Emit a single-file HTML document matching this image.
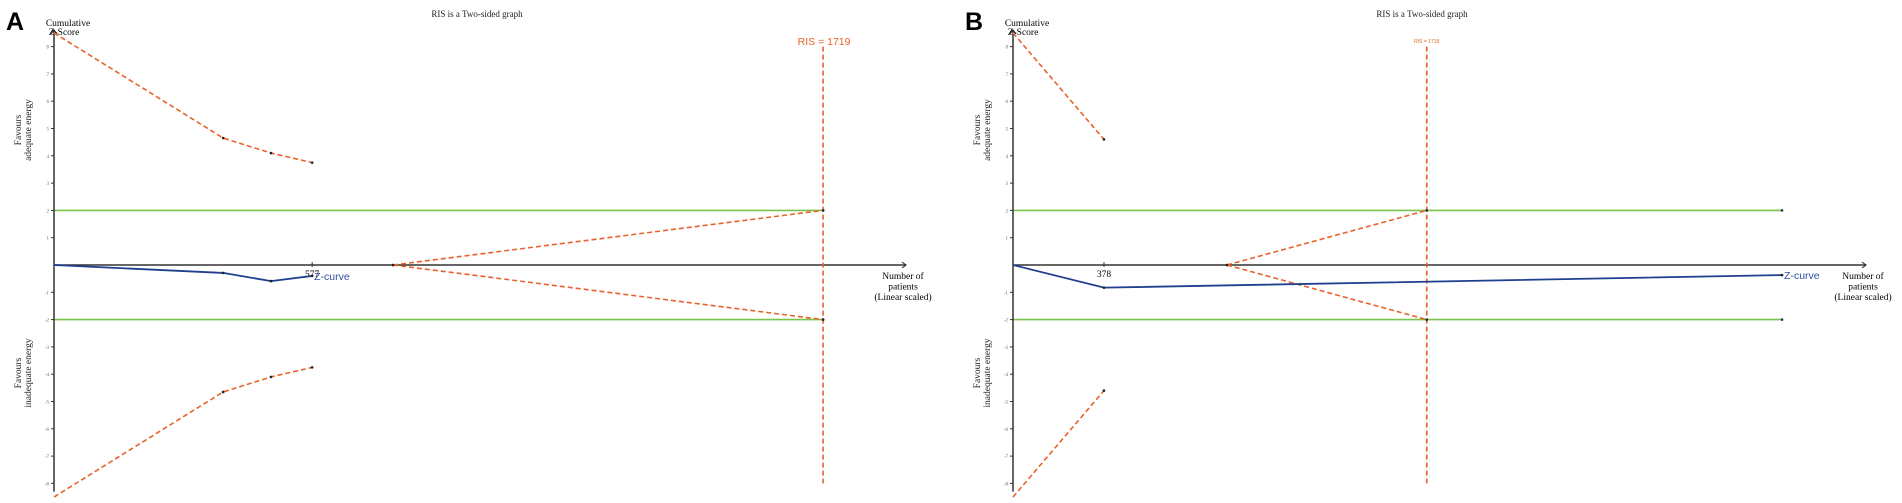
<!DOCTYPE html>
<html><head><meta charset="utf-8"><style>
html,body{margin:0;padding:0;background:#fff;}
svg{display:block;}
.ser{font-family:"Liberation Serif",serif;}
.san{font-family:"Liberation Sans",sans-serif;}
</style></head><body>
<svg id="chart" width="1902" height="503" viewBox="0 0 1902 503"></svg>
<script>
// ---- Panel A data ----
const aZx = [0, 378, 485, 577];
const aZy = [0, -0.29, -0.59, -0.40];
const aUpX = [0, 378, 485, 577];
const aUpY = [8.5, 4.65, 4.1, 3.75];
const aFutX = [758, 1719];
const aFutY = [0, 2];
const aRIS = 1719;
const aTick = [577];
const aTickLbl = ["577"];
const aGreenEnd = 1719;
// ---- Panel B data ----
const bZx = [0, 378, 3195];
const bZy = [0, -0.83, -0.37];
const bUpX = [0, 378];
const bUpY = [8.5, 4.6];
const bFutX = [889, 1719];
const bFutY = [0, 2];
const bRIS = 1719;
const bTick = [378];
const bTickLbl = ["378"];
const bGreenEnd = 3195;
const yTicks = [-8,-7,-6,-5,-4,-3,-2,-1,1,2,3,4,5,6,7,8];

const svg = document.getElementById('chart');
const NS = 'http://www.w3.org/2000/svg';
function mk(tag, attrs, parent){const e=document.createElementNS(NS,tag);for(const k in attrs)e.setAttribute(k,attrs[k]);(parent||svg).appendChild(e);return e;}

function panel(cfg){
  const g = mk('g',{});
  
  
  const X = v => cfg.x0 + v*cfg.sx;
  const Y = v => 265 - v*27.3;
  // title
  const t = mk('text',{x:cfg.titleX,y:17,'font-size':9,'text-anchor':'middle',class:'ser',fill:'#222'},g);
  t.textContent='RIS is a Two-sided graph';
  
  
  const L = mk('text',{x:cfg.x0-48,y:30,'font-size':25,'font-weight':'bold',class:'san',fill:'#000'},g);
  L.textContent=cfg.letter;
  
  
  const c1 = mk('text',{x:cfg.x0+14,y:26,'font-size':9.5,'text-anchor':'middle',class:'ser'},g); c1.textContent='Cumulative';
  
  
  const c2 = mk('text',{x:cfg.x0+10,y:35,'font-size':9.5,'text-anchor':'middle',class:'ser'},g); c2.textContent='Z-Score';
  
  
  // favour labels
  [[130,'Favours','adequate energy','favours-adequate-label'],[373,'Favours','inadequate energy','favours-inadequate-label']].forEach(f=>{
    const tt = mk('text',{transform:`translate(${cfg.x0-33},${f[0]}) rotate(-90)`,'font-size':9.5,'text-anchor':'middle',class:'ser',fill:'#222'},g);
    
    
    const s1=mk('tspan',{x:0,dy:0},tt); s1.textContent=f[1];
    const s2=mk('tspan',{x:0,dy:10},tt); s2.textContent=f[2];
  });
  // green boundaries
  [2,-2].forEach(v=>{
    const l=mk('line',{x1:X(0),x2:X(cfg.green),y1:Y(v),y2:Y(v),stroke:'#7cc24e','stroke-width':1.6},g);
    
    
    mk('circle',{cx:X(cfg.green),cy:Y(v),r:1.3,fill:'#333'},g);
  });
  // y axis
  const ya=mk('line',{x1:X(0),x2:X(0),y1:Y(8.5)-3,y2:Y(-8.3),stroke:'#333','stroke-width':1.5},g);
  
  
  mk('path',{d:`M${X(0)-3},${Y(8.5)+1} L${X(0)},${Y(8.5)-3} L${X(0)+3},${Y(8.5)+1}`,fill:'none',stroke:'#222','stroke-width':1},g);
  yTicks.forEach(v=>{
    mk('line',{x1:X(0)-3,x2:X(0),y1:Y(v),y2:Y(v),stroke:'#333','stroke-width':1},g);
    const tl=mk('text',{x:X(0)-5,y:Y(v)+2,'font-size':5,'text-anchor':'end',class:'ser',fill:'#666'},g);
    tl.textContent=v;
    
    
  });
  // x axis
  const xa=mk('line',{x1:X(0),x2:cfg.axEnd,y1:Y(0),y2:Y(0),stroke:'#333','stroke-width':1.5},g);
  
  
  mk('path',{d:`M${cfg.axEnd-4},${Y(0)-3} L${cfg.axEnd},${Y(0)} L${cfg.axEnd-4},${Y(0)+3}`,fill:'none',stroke:'#222','stroke-width':1},g);
  ['Number of','patients','(Linear scaled)'].forEach((s,i)=>{
    const tx=mk('text',{x:cfg.axEnd-3,y:Y(0)+14+i*10.5,'font-size':9.5,'text-anchor':'middle',class:'ser'},g);
    tx.textContent=s;
    
    
  });
  cfg.ticks.forEach((v,i)=>{
    mk('line',{x1:X(v),x2:X(v),y1:Y(0)-3,y2:Y(0)+2,stroke:'#333','stroke-width':1},g);
    const tl=mk('text',{x:X(v),y:Y(0)+12,'font-size':9.5,'text-anchor':'middle',class:'ser'},g);
    tl.textContent=cfg.tickLbl[i];
    
    
  });
  const dash={stroke:'#e8622a','stroke-width':1.6,'stroke-dasharray':'5,3',fill:'none'};
  // RIS line
  const r=mk('line',Object.assign({x1:X(cfg.ris),x2:X(cfg.ris),y1:Y(8),y2:Y(-8)},dash),g);
  
  
  const rl=mk('text',{x:X(cfg.ris)+cfg.risDx,y:cfg.risY,'font-size':cfg.risFs,'text-anchor':'middle',class:'san',fill:'#e8622a'},g);
  rl.textContent='RIS = 1719';
  
  
  // futility wedge
  [1,-1].forEach(sg=>{
    const p=mk('polyline',Object.assign({points:cfg.futX.map((v,i)=>X(v)+','+Y(sg*cfg.futY[i])).join(' ')},dash),g);
    
    
    cfg.futX.forEach((v,i)=>mk('circle',{cx:X(v),cy:Y(sg*cfg.futY[i]),r:1.3,fill:'#222'},g));
  });
  // monitoring boundaries
  [1,-1].forEach(sg=>{
    const p=mk('polyline',Object.assign({points:cfg.upX.map((v,i)=>X(v)+','+Y(sg*cfg.upY[i])).join(' ')},dash),g);
    
    
    cfg.upX.forEach((v,i)=>{ if(i>0) mk('circle',{cx:X(v),cy:Y(sg*cfg.upY[i]),r:1.3,fill:'#222'},g); });
  });
  // z-curve
  const z=mk('polyline',{points:cfg.zx.map((v,i)=>X(v)+','+Y(cfg.zy[i])).join(' '),fill:'none',stroke:'#1f3f8f','stroke-width':1.8},g);
  
  
  cfg.zx.forEach((v,i)=>{ if(i>0) mk('circle',{cx:X(v),cy:Y(cfg.zy[i]),r:1.3,fill:'#222'},g); });
  const n=cfg.zx.length-1;
  const zl=mk('text',{x:X(cfg.zx[n])+2,y:Y(cfg.zy[n])+4,'font-size':10.5,class:'san',fill:'#2f4fa0'},g);
  zl.textContent='Z-curve';
  
  
}
panel({name:'panel-a',letter:'A',x0:54,sx:0.4474,titleX:477,axEnd:906,green:aGreenEnd,ris:aRIS,risDx:1,risY:45,risFs:10.5,
  zx:aZx,zy:aZy,upX:aUpX,upY:aUpY,futX:aFutX,futY:aFutY,ticks:aTick,tickLbl:aTickLbl});
panel({name:'panel-b',letter:'B',x0:1013,sx:0.2407,titleX:1422,axEnd:1866,green:bGreenEnd,ris:bRIS,risDx:0,risY:43,risFs:5,
  zx:bZx,zy:bZy,upX:bUpX,upY:bUpY,futX:bFutX,futY:bFutY,ticks:bTick,tickLbl:bTickLbl});
</script>
</body></html>
